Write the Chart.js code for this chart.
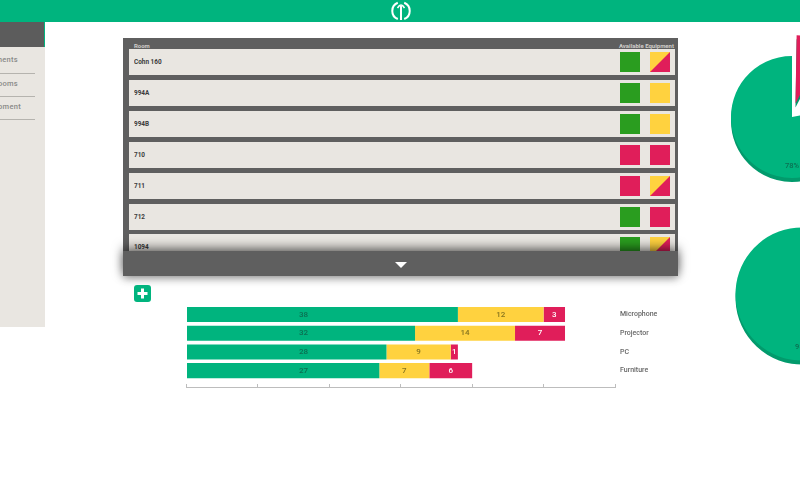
<!DOCTYPE html>
<html>
<head>
<meta charset="utf-8">
<script src="https://cdn.jsdelivr.net/npm/chart.js@4"></script>
<style>
html,body{margin:0;width:800px;height:480px;overflow:hidden;background:#fff;font-family:Roboto,sans-serif}
div,canvas,svg{position:absolute}
#top{left:0;top:0;width:800px;height:22px;background:#00b47e}
#side{left:0;top:22px;width:45px;height:305px;background:#e9e6e1;overflow:hidden}
#sideHead{left:0;top:0;width:44px;height:25px;background:#5c5c5c;border-right:1px solid #00b47e}
.sideItem{font-size:7.5px;font-weight:500;color:#8a8a88;white-space:nowrap;letter-spacing:.3px}
.sideLine{left:0;width:35px;height:1px;background:#b5b3ae}
#table{left:123px;top:38px;width:555px;height:238px;background:#5f5f5f}
.head{top:4px;font-size:6px;font-weight:700;color:#cfcdc9;white-space:nowrap}
.row{left:6px;width:546px;height:26px;background:#e9e6e1}
.name{left:5px;top:8px;font-size:8px;font-weight:700;color:#3b3b3b;white-space:nowrap;transform:scaleX(.8);transform-origin:left}
.cell{top:3px;width:20px;height:20px}
#foot{left:123px;top:251px;width:555px;height:25px;background:#5f5f5f;box-shadow:0 -3px 11px rgba(0,0,0,.55),0 3px 9px rgba(0,0,0,.28)}
#arrow{left:272px;top:11px;width:0;height:0;border-left:6.5px solid transparent;border-right:6.5px solid transparent;border-top:6.5px solid #fff}
#plus{left:134px;top:285px;width:17px;height:17px;border-radius:3px;background:#00b47e}
</style>
</head>
<body>
<div id="top">
  <svg style="left:390px;top:0" width="22" height="22" viewBox="0 0 22 22" fill="none" stroke="#fff" stroke-width="2">
    <path d="M7.8 2.8A8.7 8.7 0 0 0 7.8 19"/><path d="M14.2 2.8A8.7 8.7 0 0 1 14.2 19"/><path d="M11 6V20"/><path d="M7.5 8Q11 2 14.5 8" stroke-width="1.5"/>
  </svg>
</div>
<div id="side"><div id="sideHead"></div></div>
<div id="table">
  <div class="head" style="left:11px">Room</div>
  <div class="head" style="right:4px">Available Equipment</div>
</div>
<div id="foot"><div id="arrow"></div></div>
<div id="plus">
  <svg width="17" height="17" viewBox="0 0 17 17"><path d="M8.5 3.5V13.5M3.5 8.5H13.5" stroke="#fff" stroke-width="3"/></svg>
</div>
<canvas id="barChart" width="520" height="96" style="left:180px;top:296px"></canvas>
<canvas id="pieOne" width="400" height="240" style="left:592px;top:-3px"></canvas>
<canvas id="pieTwo" width="400" height="240" style="left:602px;top:174px"></canvas>

<script>
// equipment bars
const categories = ["Microphone", "Projector", "PC", "Furniture"];
const availableCounts = [38, 32, 28, 27];
const partialCounts = [12, 14, 9, 7];
const missingCounts = [3, 7, 1, 6];
const axisTicks = [0, 10, 20, 30, 40, 50, 60];

// pies
const pieOneValues = [8, 14, 78];
const pieTwoValues = [5, 95];

// table
const rooms = ["Cohn 160", "994A", "994B", "710", "711", "712", "1094"];
const roomAvailable = ["g", "g", "g", "r", "r", "g", "g"];
const roomEquipment = ["yr", "y", "y", "r", "yr", "r", "yr"];

// sidebar
const sideItems = ["Departments", "Classrooms", "Equipment"];

const green = "#00b47e", yellow = "#ffd23f", pink = "#e01e5a";
const cellFill = {
  g: "#2a9d1f",
  r: pink,
  y: yellow,
  yr: "linear-gradient(135deg," + yellow + " 49.5%," + pink + " 50.5%)"
};

const side = document.getElementById("side");
sideItems.forEach((t, i) => {
  const item = document.createElement("div");
  item.className = "sideItem";
  item.textContent = t;
  item.style.top = (33 + i * 23.5) + "px";
  item.style.right = (i === 2 ? 24 : 27) + "px";
  side.appendChild(item);
  const line = document.createElement("div");
  line.className = "sideLine";
  line.style.top = (51 + i * 23) + "px";
  side.appendChild(line);
});

const table = document.getElementById("table");
rooms.forEach((r, i) => {
  const row = document.createElement("div");
  row.className = "row";
  row.style.top = (11 + i * 30.9) + "px";
  row.innerHTML = '<div class="name">' + r + '</div>'
    + '<div class="cell" style="left:491px;background:' + cellFill[roomAvailable[i]] + '"></div>'
    + '<div class="cell" style="left:521px;background:' + cellFill[roomEquipment[i]] + '"></div>';
  table.appendChild(row);
});

// Chart.js has no value labels of its own
const barLabels = {
  id: "barLabels",
  afterDatasetsDraw(chart) {
    const ctx = chart.ctx;
    ctx.save();
    ctx.font = "500 8px Roboto";
    ctx.textAlign = "center";
    ctx.textBaseline = "middle";
    chart.data.datasets.forEach((ds, d) => {
      chart.getDatasetMeta(d).data.forEach((bar, i) => {
        ctx.fillStyle = ds.labelColor;
        // the green labels all sit in one column in the reference
        const x = d === 0 ? chart.scales.x.getPixelForValue(16.4) : (bar.x + bar.base) / 2;
        ctx.fillText(ds.data[i], x, bar.y);
      });
    });
    ctx.restore();
  }
};

new Chart(document.getElementById("barChart"), {
  type: "bar",
  data: {
    labels: categories,
    datasets: [
      { data: availableCounts, backgroundColor: green, labelColor: "#0b6f52" },
      { data: partialCounts, backgroundColor: yellow, labelColor: "#86741f" },
      { data: missingCounts, backgroundColor: pink, labelColor: "#fff" }
    ]
  },
  options: {
    indexAxis: "y",
    responsive: false,
    animation: false,
    categoryPercentage: 1,
    barPercentage: 0.81,
    layout: { padding: { left: 6.5, top: 2, bottom: 12 } },
    plugins: { legend: { display: false }, tooltip: { enabled: false } },
    scales: {
      x: {
        stacked: true,
        position: { y: 3.88 },
        min: 0,
        max: 60,
        afterBuildTicks: s => { s.ticks = axisTicks.map(v => ({ value: v })); },
        ticks: { display: false },
        grid: { drawOnChartArea: false, tickLength: -4, color: "#bdbdbd" },
        border: { color: "#bdbdbd" }
      },
      y: {
        stacked: true,
        position: "right",
        afterFit: s => { s.width = 85; },
        ticks: { padding: 5, font: { size: 7, family: "Roboto", weight: "500" }, color: "#666" },
        grid: { display: false, drawTicks: false },
        border: { display: false }
      }
    }
  },
  plugins: [barLabels]
});

// flat shadow under the pie for the raised look
const pieEdge = {
  id: "pieEdge",
  beforeDatasetsDraw(chart) {
    const ctx = chart.ctx;
    ctx.save();
    ctx.shadowColor = "#029a6c";
    ctx.shadowOffsetY = 4;
  },
  afterDatasetsDraw(chart) {
    chart.ctx.restore();
    const ctx = chart.ctx;
    const arcs = chart.getDatasetMeta(0).data;
    const ds = chart.data.datasets[0];
    const i = ds.data.length - 1;
    ctx.save();
    ctx.font = "500 7.5px Roboto";
    ctx.fillStyle = "#0b6f52";
    ctx.textAlign = "center";
    ctx.textBaseline = "middle";
    ctx.fillText(ds.data[i] + "%", arcs[i].x, arcs[i].y + arcs[i].outerRadius * 0.8);
    ctx.restore();
  }
};

function pie(id, values, colors, offsets, radius) {
  new Chart(document.getElementById(id), {
    type: "pie",
    data: { datasets: [{ data: values, backgroundColor: colors, offset: offsets, borderWidth: 0 }] },
    options: {
      responsive: false,
      animation: false,
      radius: radius,
      plugins: { legend: { display: false }, tooltip: { enabled: false } }
    },
    plugins: [pieEdge]
  });
}

// Chart.js moves a slice by a quarter of its offset
pie("pieOne", pieOneValues, [pink, yellow, green], [56, 200, 0], 61);
pie("pieTwo", pieTwoValues, [pink, green], [0, 0], 66.5);
</script>
</body>
</html>
